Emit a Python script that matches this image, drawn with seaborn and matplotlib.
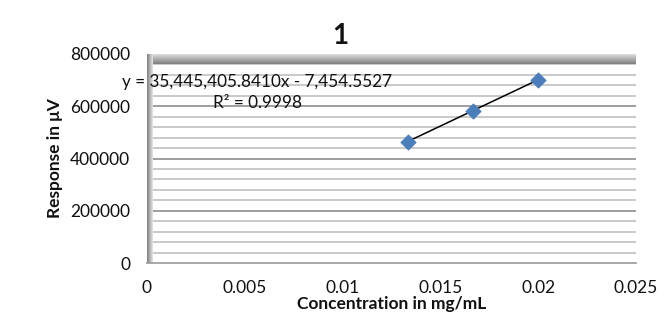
import numpy as np
import pandas as pd
import seaborn as sns
import matplotlib.pyplot as plt

# dati della curva di calibrazione
concentrazione = [0.01333, 0.01667, 0.02]
risposta = [465000, 583500, 701000]
pendenza = 35445405.8410
intercetta = -7454.5527
r2 = 0.9998
titolo = "1"
x_ticks = [0, 0.005, 0.01, 0.015, 0.02, 0.025]
x_tick_labels = ["0", "0.005", "0.01", "0.015", "0.02", "0.025"]
y_ticks = [0, 200000, 400000, 600000, 800000]

sns.set_style("white")
plt.rcParams['font.family'] = ['Lato', 'DejaVu Sans']

fig = plt.figure(figsize=(6.69, 3.19), dpi=100)
ax = fig.add_axes([147 / 669, 1 - 263 / 319, 489 / 669, 209 / 319])

df = pd.DataFrame({"conc": concentrazione, "resp": risposta})

# griglia stile Excel
for yv in np.arange(40000, 800001, 40000):
    major = yv % 200000 == 0
    ax.axhline(yv, color="#9e9e9e" if major else "#c0c0c0", lw=1.4 if major else 1.2, zorder=1)

# pareti grigie (effetto 3D)
grad_top = np.linspace(0.5, 0.9, 20).reshape(-1, 1)
ax.imshow(grad_top, cmap="gray", vmin=0, vmax=1, aspect="auto",
          extent=[0, 1, 1, 0.95], transform=ax.transAxes, zorder=2)
grad_left = np.linspace(0.5, 0.9, 20).reshape(1, -1)
ax.imshow(grad_left, cmap="gray", vmin=0, vmax=1, aspect="auto",
          extent=[0, 0.011, 0, 1], transform=ax.transAxes, zorder=2)

# linea di tendenza
xs = np.array([min(concentrazione), max(concentrazione)])
trend = pd.DataFrame({"conc": xs, "resp": pendenza * xs + intercetta})
sns.lineplot(data=trend, x="conc", y="resp", color="black", lw=1.1, ax=ax, zorder=3)
sns.scatterplot(data=df, x="conc", y="resp", marker="D", s=60, color="#4a7ebb",
                edgecolor="#4a7ebb", ax=ax, zorder=4)

ax.set_xlim(0, 0.025)
ax.set_ylim(0, 800000)
ax.set_xticks(x_ticks)
ax.set_xticklabels(x_tick_labels)
ax.set_yticks(y_ticks)
ax.tick_params(axis="both", labelsize=12.5, colors="#888888", labelcolor="#111111",
               length=4, width=1, direction="out", pad=8)

for s in ["top", "right", "left"]:
    ax.spines[s].set_visible(False)
ax.spines["bottom"].set_color("#999999")
ax.spines["bottom"].set_linewidth(1.2)

ax.set_xlabel("Concentration in mg/mL", fontsize=12.5, fontweight="bold", labelpad=0,
              color="#111111")
ax.set_ylabel("Response in μV", fontsize=12.5, fontweight="bold", labelpad=5,
              color="#111111")

fig.text(340 / 669, 1 - 36 / 319, titolo, fontsize=20, fontweight="bold",
         ha="center", va="center", color="#111111")

ax.text(0.005624, 692800, "y = 35,445,405.8410x - 7,454.5527", fontsize=12.3,
        ha="center", va="center", color="#111111", zorder=5)
ax.text(0.005624, 612000, f"R² = {r2}", fontsize=12.3, ha="center", va="center",
        color="#111111", zorder=5)

fig.savefig("out.png", dpi=100)
